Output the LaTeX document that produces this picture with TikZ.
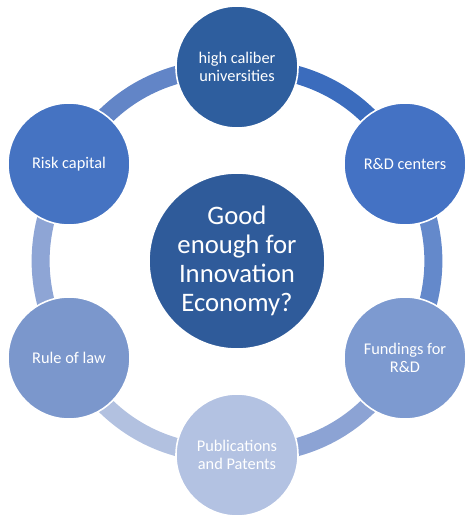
\documentclass[tikz,border=0pt]{standalone}
\usepackage{fontspec}
\setmainfont{Carlito}
\usetikzlibrary{backgrounds}
\definecolor{hubfill}{HTML}{2F5B9A}
\definecolor{unifill}{HTML}{2E5E9E}
\definecolor{rdfill}{HTML}{4472C4}
\definecolor{riskfill}{HTML}{4573C2}
\definecolor{fundfill}{HTML}{7D9AD0}
\definecolor{lawfill}{HTML}{7B97CC}
\definecolor{pubfill}{HTML}{B3C2E2}
\definecolor{segone}{HTML}{3B6CBD}
\definecolor{segtwo}{HTML}{6489CB}
\definecolor{segthree}{HTML}{8CA3D4}
\definecolor{segfour}{HTML}{B2C1E0}
\definecolor{segfive}{HTML}{8EA5D5}
\definecolor{segsix}{HTML}{6285C7}
\tikzset{
  hub/.style={circle, draw=white, line width=0.9pt, minimum size=3.52cm,
              inner sep=0pt, align=center, text=white, font=\fontsize{15.2}{16.6}\selectfont},
  spoke/.style={circle, draw=white, line width=0.9pt, minimum size=2.44cm,
                inner sep=0pt, align=center, text=white, font=\fontsize{9.3}{10.1}\selectfont},
  ring/.style={line width=0.36cm},
}
\def\rrad{3.88}

\begin{document}
\begin{tikzpicture}
\useasboundingbox (-4.74,-5.36) rectangle (4.74,5.22);

% Centre question
\node[hub, fill=hubfill] (hub) at (0,0) {Good\\enough for\\Innovation\\Economy?};

% Six factors round the ring, clockwise from the top
\node[spoke, fill=unifill]   (uni)  at (90:\rrad)  {high caliber\\universities};
\node[spoke, fill=rdfill]    (rd)   at (30:\rrad)  {R\&D centers};
\node[spoke, fill=fundfill]  (fund) at (-30:\rrad) {Fundings for\\R\&D};
\node[spoke, fill=pubfill]   (pub)  at (-90:\rrad) {Publications\\and Patents};
\node[spoke, fill=lawfill]   (law)  at (210:\rrad) {Rule of law};
\node[spoke, fill=riskfill]  (risk) at (150:\rrad) {Risk capital};

% Ring segments, behind the circles
\begin{scope}[on background layer]
  \foreach \a/\b/\c in {uni/rd/segone, rd/fund/segtwo, fund/pub/segthree,
                        pub/law/segfour, law/risk/segfive, risk/uni/segsix}
    \draw[ring, draw=\c] (\a.center) to[bend left=30] (\b.center);
\end{scope}

\end{tikzpicture}
\end{document}
